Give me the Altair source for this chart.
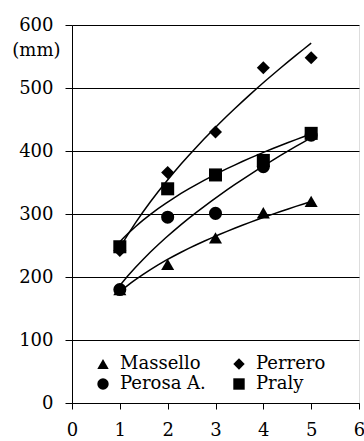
import altair as alt
import pandas as pd

series_names = ["Massello", "Perosa A.", "Perrero", "Praly"]
shapes = ["triangle-up", "circle", "diamond", "square"]
x_vals = [1, 2, 3, 4, 5]
massello = [180, 220, 262, 302, 320]
perosa = [180, 295, 301, 375, 425]
perrero = [242, 366, 430, 532, 548]
praly = [248, 340, 362, 385, 428]
y_ticks = [0, 100, 200, 300, 400, 500, 600]
x_ticks = [0, 1, 2, 3, 4, 5, 6]

rows = []
for name, vals in zip(series_names, [massello, perosa, perrero, praly]):
    for xv, yv in zip(x_vals, vals):
        rows.append({"x": xv, "y": yv, "series": name})
df = pd.DataFrame(rows)

FONT = "DejaVu Serif"

xenc = alt.X("x:Q", scale=alt.Scale(domain=[0, 6], nice=False),
             axis=alt.Axis(values=x_ticks, title=None, grid=False, tickSize=6,
                           labelPadding=12, labelFont=FONT, labelFontSize=18,
                           labelColor="black", tickColor="black", domainColor="black",
                           labelFlush=False))
yenc = alt.Y("y:Q", scale=alt.Scale(domain=[0, 600], nice=False),
             axis=alt.Axis(values=y_ticks, title="(mm)", grid=True, gridColor="black",
                           gridOpacity=1, gridWidth=1, tickSize=7, labelPadding=12,
                           labelFont=FONT, labelFontSize=18, labelColor="black",
                           tickColor="black", domainColor="black",
                           titleAngle=0, titleAlign="right", titleBaseline="middle",
                           titleX=-12, titleY=25, titleFont=FONT, titleFontSize=18,
                           titleFontWeight="normal", titleColor="black", labelFlush=False))

points = alt.Chart(df).mark_point(filled=True, opacity=1, color="black", size=170).encode(
    x=xenc, y=yenc,
    shape=alt.Shape("series:N", scale=alt.Scale(domain=series_names, range=shapes),
                    legend=alt.Legend(title=None, orient="none", legendX=22, legendY=330,
                                      columns=2, columnPadding=24, rowPadding=2,
                                      labelFont=FONT, labelFontSize=18, labelColor="black",
                                      symbolSize=130, symbolFillColor="black",
                                      symbolStrokeColor="black", labelOffset=8)),
)

lines = alt.Chart(df).transform_regression(
    "x", "y", groupby=["series"], method="pow"
).mark_line(color="black", strokeWidth=1.5).encode(
    x=alt.X("x:Q"), y=alt.Y("y:Q"), detail="series:N"
)

chart = alt.layer(lines, points).properties(
    width=287, height=378,
    autosize=alt.AutoSizeParams(type="none"),
    padding={"left": 72, "top": 25, "right": 5, "bottom": 38},
).configure_view(stroke="black", strokeWidth=1).configure(background="white", font=FONT)

chart.save("out.html", embed_options={"renderer": "svg", "actions": False})
